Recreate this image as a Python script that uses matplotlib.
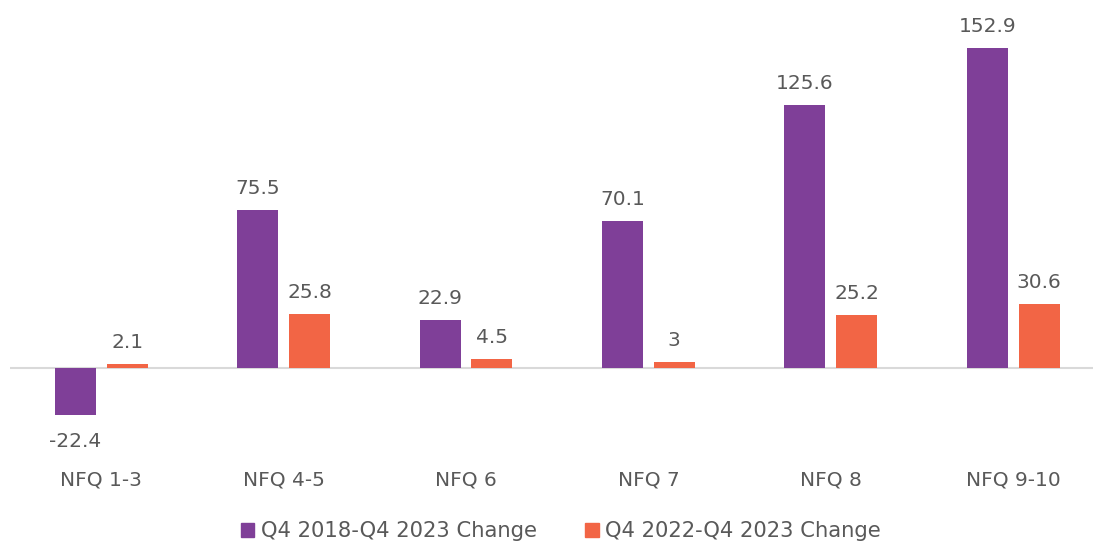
import matplotlib
matplotlib.use("Agg")
import matplotlib.pyplot as plt
import numpy as np
from matplotlib.patches import Patch

categories = ["NFQ 1-3", "NFQ 4-5", "NFQ 6", "NFQ 7", "NFQ 8", "NFQ 9-10"]
change_2018_2023 = [-22.4, 75.5, 22.9, 70.1, 125.6, 152.9]
change_2022_2023 = [2.1, 25.8, 4.5, 3, 25.2, 30.6]
series_names = ["Q4 2018-Q4 2023 Change", "Q4 2022-Q4 2023 Change"]
value_labels_1 = ["-22.4", "75.5", "22.9", "70.1", "125.6", "152.9"]
value_labels_2 = ["2.1", "25.8", "4.5", "3", "25.2", "30.6"]

purple = "#7F3F98"
orange = "#F26545"
text_color = "#595959"

plt.rcParams['font.family'] = ['DejaVu Sans']
FS = 14.5

W, H = 1093, 543
fig = plt.figure(figsize=(W / 100, H / 100), dpi=100)
ax_bottom_px = 420
ax = fig.add_axes([10 / W, 1 - ax_bottom_px / H, 1 - 10 / W, ax_bottom_px / H])

x = np.arange(len(categories))
bw = 0.225
off = 0.142
b1 = ax.bar(x - off, change_2018_2023, bw, color=purple, zorder=2)
b2 = ax.bar(x + off, change_2022_2023, bw, color=orange, zorder=2)

px_per_unit = 320 / 152.9
ax.set_ylim(-(ax_bottom_px - 368) / px_per_unit, 368 / px_per_unit)
spacing = 182.4
ax.set_xlim(-0.5, -0.5 + 1083 / spacing)

ax.axhline(0, color="#d9d9d9", lw=1.5, zorder=1)

for rect, lab, v in zip(b1, value_labels_1, change_2018_2023):
    xc = rect.get_x() + rect.get_width() / 2
    if v >= 0:
        ax.annotate(lab, (xc, v), xytext=(0, 8.5), textcoords="offset points",
                    ha="center", va="bottom", fontsize=FS, color=text_color)
    else:
        ax.annotate(lab, (xc, v), xytext=(0, -12), textcoords="offset points",
                    ha="center", va="top", fontsize=FS, color=text_color)
for rect, lab, v in zip(b2, value_labels_2, change_2022_2023):
    xc = rect.get_x() + rect.get_width() / 2
    ax.annotate(lab, (xc, v), xytext=(0, 8.5), textcoords="offset points",
                ha="center", va="bottom", fontsize=FS, color=text_color)

ax.set_xticks(x, categories)
ax.tick_params(axis="x", length=0, pad=36, labelsize=FS, labelcolor=text_color)
ax.set_yticks([])
for s in ax.spines.values():
    s.set_visible(False)

handles = [Patch(color=purple), Patch(color=orange)]
fig.legend(handles, series_names, loc="center", bbox_to_anchor=(0.513, 1 - 531 / H),
           ncol=2, frameon=False, fontsize=15.2, labelcolor=text_color,
           handlelength=0.65, handleheight=0.65, handletextpad=0.3, columnspacing=2.3)

fig.savefig("out.png", dpi=100)
